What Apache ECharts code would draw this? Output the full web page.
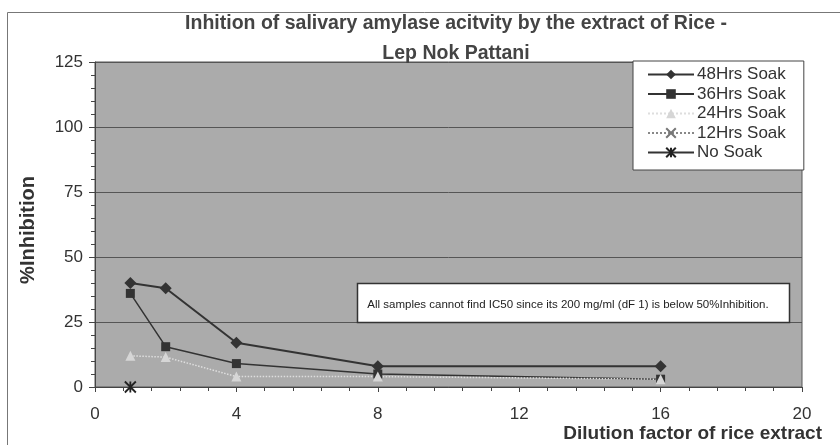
<!DOCTYPE html>
<html>
<head>
<meta charset="utf-8">
<script src="https://cdn.jsdelivr.net/npm/echarts@6/dist/echarts.min.js"></script>
<style>
  html, body { margin: 0; padding: 0; background: #fff; }
  #chart { width: 840px; height: 445px; }
</style>
</head>
<body>
<div id="chart"></div>
<script>
// Dilution factors tested
const dilution = [1, 2, 4, 8, 16];

// % inhibition for each soaking time
const soak48 = [40, 38, 17, 8, 8];
const soak36 = [36, 15.5, 9, 5, 3];
const soak24 = [12, 11.5, 4, 4, 3];
const soak12 = [-8, -3, -10, -6, -3];
const noSoak = [0, -4, -9, -12, -15];

const seriesNames = ['48Hrs Soak', '36Hrs Soak', '24Hrs Soak', '12Hrs Soak', 'No Soak'];

const xTicks = [0, 4, 8, 12, 16, 20];
const yTicks = [0, 25, 50, 75, 100, 125];

const FONT = '"Liberation Sans", Arial, sans-serif';
const TXT = '#333';

function pairs(values) {
  return dilution.map((d, i) => [d, values[i]]);
}

const chart = echarts.init(document.getElementById('chart'), null, { renderer: 'canvas' });

const option = {
  backgroundColor: '#fff',
  animation: false,
  title: {
    text: 'Inhition of salivary amylase acitvity by the extract of Rice -\nLep Nok Pattani',
    left: 451,
    top: 4,
    textAlign: 'center',
    textStyle: {
      fontFamily: FONT,
      fontWeight: 'bold',
      fontSize: 19.5,
      lineHeight: 30,
      color: '#444'
    }
  },
  grid: {
    left: 95,
    right: 38,
    top: 62,
    bottom: 58,
    show: true,
    backgroundColor: '#ababab',
    borderColor: '#555',
    borderWidth: 1
  },
  legend: {
    orient: 'vertical',
    left: 633,
    top: 61,
    width: 170,
    padding: [5, 18, 9, 14],
    itemGap: 2.5,
    itemWidth: 46,
    itemHeight: 12,
    backgroundColor: '#fff',
    borderColor: '#444',
    borderWidth: 1,
    data: seriesNames,
    textStyle: { fontFamily: FONT, fontSize: 17, lineHeight: 17, color: TXT, padding: [0, 0, 0, -2] }
  },
  xAxis: {
    type: 'value',
    min: xTicks[0],
    max: xTicks[xTicks.length - 1],
    interval: 4,
    axisLine: { show: true, onZero: false, lineStyle: { color: '#444', width: 1 } },
    axisTick: { show: true, inside: false, length: 5, lineStyle: { color: '#444' } },
    minorTick: { show: true, splitNumber: 5, length: 4, lineStyle: { color: '#444' } },
    splitLine: { show: false },
    axisLabel: { fontFamily: FONT, fontSize: 17, color: TXT, margin: 19 }
  },
  yAxis: {
    type: 'value',
    min: yTicks[0],
    max: yTicks[yTicks.length - 1],
    interval: 25,
    axisLine: { show: true, lineStyle: { color: '#444', width: 1 } },
    axisTick: { show: true, inside: false, length: 6, lineStyle: { color: '#444' } },
    minorTick: { show: true, splitNumber: 5, length: 4, lineStyle: { color: '#444' } },
    splitLine: { show: true, lineStyle: { color: '#555', width: 1 } },
    axisLabel: { fontFamily: FONT, fontSize: 17, color: TXT, margin: 12 }
  },
  series: [
    {
      name: seriesNames[0],
      type: 'line',
      data: pairs(soak48),
      symbol: 'diamond',
      symbolSize: 12,
      lineStyle: { color: '#333', width: 2 },
      itemStyle: { color: '#333' }
    },
    {
      name: seriesNames[1],
      type: 'line',
      data: pairs(soak36),
      symbol: 'rect',
      symbolSize: 9,
      lineStyle: { color: '#333', width: 1.5 },
      itemStyle: { color: '#333' }
    },
    {
      name: seriesNames[2],
      type: 'line',
      data: pairs(soak24),
      symbol: 'triangle',
      symbolSize: 10,
      lineStyle: { color: '#dedede', width: 1.5, type: 'dotted' },
      itemStyle: { color: '#d6d6d6' }
    },
    {
      name: seriesNames[3],
      type: 'line',
      data: pairs(soak12),
      symbol: 'path://M0,0L10,10M10,0L0,10',
      symbolSize: 10,
      lineStyle: { color: '#888', width: 1, type: 'dotted' },
      itemStyle: { color: 'rgba(0,0,0,0)', borderColor: '#777', borderWidth: 1 }
    },
    {
      name: seriesNames[4],
      type: 'line',
      data: pairs(noSoak),
      symbol: 'path://M0,0L10,10M10,0L0,10M5,0L5,10',
      symbolSize: 11,
      lineStyle: { color: '#333', width: 1.5 },
      itemStyle: { color: 'rgba(0,0,0,0)', borderColor: '#222', borderWidth: 1.8 }
    }
  ],
  graphic: [
    {
      // outer chart frame
      type: 'rect',
      shape: { x: 7.5, y: 12.5, width: 840, height: 440 },
      style: { fill: 'none', stroke: '#777', lineWidth: 1 },
      silent: true,
      z: 0
    },
    {
      // y-axis title
      type: 'text',
      x: 28,
      y: 230,
      rotation: Math.PI / 2,
      style: {
        text: '%Inhibition',
        font: 'bold 20px ' + FONT,
        fill: '#333',
        align: 'center',
        verticalAlign: 'middle'
      }
    },
    {
      // x-axis title
      type: 'text',
      x: 822,
      y: 434,
      style: {
        text: 'Dilution factor of rice extract',
        font: 'bold 19px ' + FONT,
        fill: '#333',
        align: 'right',
        verticalAlign: 'middle'
      }
    },
    {
      // note box
      type: 'rect',
      shape: { x: 357.5, y: 283.5, width: 432, height: 39 },
      style: { fill: '#fff', stroke: '#333', lineWidth: 1.5 },
      z: 10
    },
    {
      type: 'text',
      x: 568,
      y: 305,
      z: 11,
      style: {
        text: 'All samples cannot find IC50 since its 200 mg/ml (dF 1) is below 50%Inhibition.',
        font: '11.5px ' + FONT,
        fill: '#222',
        align: 'center',
        verticalAlign: 'middle'
      }
    }
  ]
};

chart.setOption(option);
</script>
</body>
</html>
